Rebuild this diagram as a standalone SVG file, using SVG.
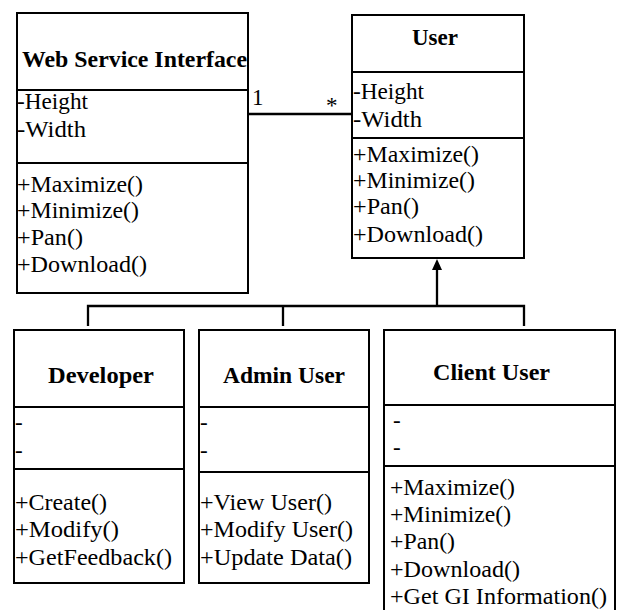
<svg xmlns="http://www.w3.org/2000/svg" width="618" height="610" viewBox="0 0 618 610">
<style>
.box{fill:#fff;stroke:#000;stroke-width:2}
.div{stroke:#000;stroke-width:2}
.t{font-family:"Liberation Serif","Times New Roman",serif;font-size:23px;fill:#000}
.b{font-family:"Liberation Serif","Times New Roman",serif;font-size:23px;font-weight:bold;fill:#000}
.c{fill:none;stroke:#000;stroke-width:2.3}
</style>
<rect width="618" height="610" fill="#fff"/>
<g id="connectors">
<line class="c" x1="248" y1="114" x2="352" y2="114"/>
<text class="t" x="252" y="105">1</text>
<text class="t" x="326" y="113">*</text>
<path class="c" d="M88,326 V306 H524 V326 M283,306 V326 M437,306 V268"/>
<polygon points="437,259 432,270 442,270" fill="#000"/>
</g>
<g id="web-service-interface">
<rect class="box" x="17" y="13" width="231" height="280"/>
<line class="div" x1="17" y1="90" x2="248" y2="90"/>
<line class="div" x1="17" y1="163" x2="248" y2="163"/>
<text class="b" x="22" y="67" textLength="225" lengthAdjust="spacingAndGlyphs">Web Service Interface</text>
<text class="t" x="17" y="109" textLength="71" lengthAdjust="spacingAndGlyphs">-Height</text>
<text class="t" x="17" y="137" textLength="69" lengthAdjust="spacingAndGlyphs">-Width</text>
<text class="t" x="17" y="192" textLength="126" lengthAdjust="spacingAndGlyphs">+Maximize()</text>
<text class="t" x="17" y="218" textLength="122" lengthAdjust="spacingAndGlyphs">+Minimize()</text>
<text class="t" x="17" y="245" textLength="66" lengthAdjust="spacingAndGlyphs">+Pan()</text>
<text class="t" x="17" y="272" textLength="130" lengthAdjust="spacingAndGlyphs">+Download()</text>
</g>
<g id="user">
<rect class="box" x="352" y="15" width="172" height="243"/>
<line class="div" x1="352" y1="72" x2="524" y2="72"/>
<line class="div" x1="352" y1="138" x2="524" y2="138"/>
<text class="b" x="412" y="45" textLength="46" lengthAdjust="spacingAndGlyphs">User</text>
<text class="t" x="353" y="99" textLength="71" lengthAdjust="spacingAndGlyphs">-Height</text>
<text class="t" x="353" y="127" textLength="69" lengthAdjust="spacingAndGlyphs">-Width</text>
<text class="t" x="353" y="162" textLength="126" lengthAdjust="spacingAndGlyphs">+Maximize()</text>
<text class="t" x="353" y="188" textLength="122" lengthAdjust="spacingAndGlyphs">+Minimize()</text>
<text class="t" x="353" y="214" textLength="66" lengthAdjust="spacingAndGlyphs">+Pan()</text>
<text class="t" x="353" y="242" textLength="130" lengthAdjust="spacingAndGlyphs">+Download()</text>
</g>
<g id="developer">
<rect class="box" x="14" y="330" width="170" height="253"/>
<line class="div" x1="14" y1="407" x2="184" y2="407"/>
<line class="div" x1="14" y1="469" x2="184" y2="469"/>
<text class="b" x="48" y="383" textLength="106" lengthAdjust="spacingAndGlyphs">Developer</text>
<text class="t" x="15" y="430">-</text>
<text class="t" x="15" y="458">-</text>
<text class="t" x="15" y="510" textLength="92" lengthAdjust="spacingAndGlyphs">+Create()</text>
<text class="t" x="15" y="537" textLength="104" lengthAdjust="spacingAndGlyphs">+Modify()</text>
<text class="t" x="15" y="565" textLength="157" lengthAdjust="spacingAndGlyphs">+GetFeedback()</text>
</g>
<g id="admin-user">
<rect class="box" x="199" y="330" width="170" height="253"/>
<line class="div" x1="199" y1="407" x2="369" y2="407"/>
<line class="div" x1="199" y1="472" x2="369" y2="472"/>
<text class="b" x="223" y="383" textLength="122" lengthAdjust="spacingAndGlyphs">Admin User</text>
<text class="t" x="200" y="430">-</text>
<text class="t" x="200" y="458">-</text>
<text class="t" x="200" y="510" textLength="132" lengthAdjust="spacingAndGlyphs">+View User()</text>
<text class="t" x="200" y="537" textLength="153" lengthAdjust="spacingAndGlyphs">+Modify User()</text>
<text class="t" x="200" y="565" textLength="152" lengthAdjust="spacingAndGlyphs">+Update Data()</text>
</g>
<g id="client-user">
<rect class="box" x="384" y="330" width="231" height="300"/>
<line class="div" x1="384" y1="405" x2="615" y2="405"/>
<line class="div" x1="384" y1="466" x2="615" y2="466"/>
<text class="b" x="433" y="380" textLength="117" lengthAdjust="spacingAndGlyphs">Client User</text>
<text class="t" x="393" y="428">-</text>
<text class="t" x="393" y="455">-</text>
<text class="t" x="390" y="495" textLength="125" lengthAdjust="spacingAndGlyphs">+Maximize()</text>
<text class="t" x="390" y="522" textLength="121" lengthAdjust="spacingAndGlyphs">+Minimize()</text>
<text class="t" x="390" y="549" textLength="65" lengthAdjust="spacingAndGlyphs">+Pan()</text>
<text class="t" x="390" y="577" textLength="130" lengthAdjust="spacingAndGlyphs">+Download()</text>
<text class="t" x="390" y="604" textLength="217" lengthAdjust="spacingAndGlyphs">+Get GI Information()</text>
</g>
</svg>
